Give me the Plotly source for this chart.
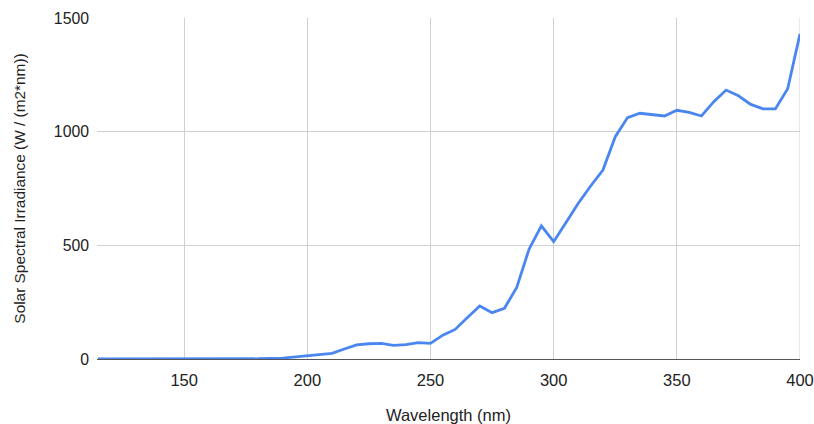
import plotly.graph_objects as go

wavelength = [115, 120, 130, 140, 150, 160, 170, 180, 190, 200, 210, 215, 220, 225, 230, 235, 240, 245, 250,
              255, 260, 265, 270, 275, 280, 285, 290, 295, 300, 305, 310, 315, 320, 325, 330,
              335, 340, 345, 350, 355, 360, 365, 370, 375, 380, 385, 390, 395, 400]
irradiance = [0, 0, 0, 0, 0, 0, 0.5, 1, 4, 14, 25, 44, 62, 67, 69, 60, 63, 72, 69,
              105, 130, 183, 233, 204, 223, 315, 483, 586, 516, 600, 685, 761, 831, 978, 1062,
              1081, 1075, 1069, 1094, 1085, 1069, 1132, 1183, 1158, 1120, 1100, 1100, 1189, 1430]

x_ticks = [150, 200, 250, 300, 350, 400]
y_ticks = [0, 500, 1000, 1500]

fig = go.Figure(go.Scatter(x=wavelength, y=irradiance, mode="lines",
                           line=dict(color="#4a86f0", width=2.8)))

fig.update_layout(
    width=814, height=424,
    margin=dict(l=97, r=14, t=18, b=65),
    paper_bgcolor="white", plot_bgcolor="white",
    showlegend=False,
    font=dict(family="Liberation Sans, Arial, sans-serif", color="#222", size=14),
    xaxis=dict(range=[114.6, 400], tickvals=x_ticks, showgrid=True, gridcolor="#d0d0d0",
               gridwidth=1, zeroline=False, showline=True, linecolor="#555", linewidth=1,
               ticks="", ticklabelstandoff=6, automargin=False,
               tickfont=dict(size=16.5),
               title=dict(text="Wavelength (nm)", font=dict(size=16.5), standoff=25)),
    yaxis=dict(range=[0, 1500], tickvals=y_ticks, showgrid=True, gridcolor="#d0d0d0",
               gridwidth=1, zeroline=False, ticks="", ticklabelstandoff=7, automargin=False,
               tickfont=dict(size=15.8),
               title=dict(text="Solar Spectral Irradiance (W / (m2*nm))", font=dict(size=15.4), standoff=24)),
)
fig.add_shape(type="line", xref="x", yref="paper", x0=400, x1=400, y0=0, y1=1,
              line=dict(color="#d0d0d0", width=1), layer="below")

fig.write_html("out.html")
